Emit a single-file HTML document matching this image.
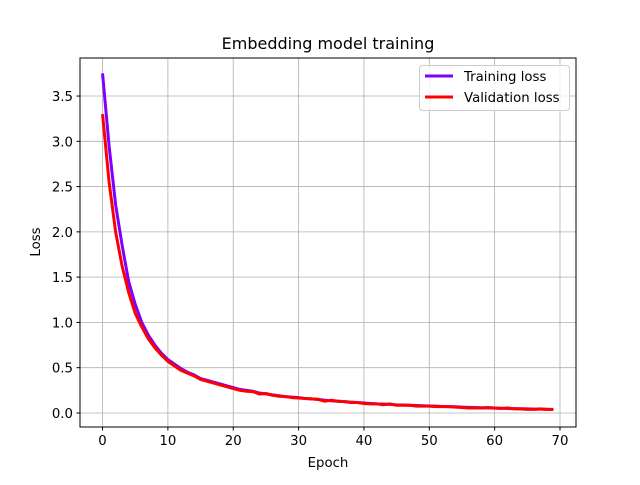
<!DOCTYPE html>
<html><head><meta charset="utf-8"><style>
body{margin:0;background:#fff}
svg text{font-family:"DejaVu Sans","Liberation Sans",sans-serif;fill:#000}
</style></head><body>
<svg id="chart" width="640" height="480">
<rect width="640" height="480" fill="#fff"/>
<g id="grid"></g>
<g id="ticks"></g>
<g id="series"></g>
<rect x="80" y="58" width="496" height="369" fill="none" stroke="#000" stroke-width="1"/>
<text x="328" y="49" font-size="16" text-anchor="middle">Embedding model training</text>
<text x="328" y="467" font-size="13.3" text-anchor="middle">Epoch</text>
<text x="0" y="0" font-size="13.3" text-anchor="middle" transform="translate(40,242) rotate(-90)">Loss</text>
<g>
<rect x="419.5" y="65.5" width="150" height="45" rx="3" fill="#fff" fill-opacity="0.8" stroke="#ccc"/>
<g>
<line x1="425" y1="76" x2="453" y2="76" stroke="#7f00ff" stroke-width="3"/>
<text x="464" y="81" font-size="13.3">Training loss</text></g>
<g>
<line x1="425" y1="97" x2="453" y2="97" stroke="#ff0000" stroke-width="3"/>
<text x="464" y="102" font-size="13.3">Validation loss</text></g>
</g>
</svg>
<script>
const xTicks=[0,10,20,30,40,50,60,70];
const yTicks=[0.0,0.5,1.0,1.5,2.0,2.5,3.0,3.5];
const trainLoss=[3.75,2.95,2.3,1.85,1.45,1.2,1.0,0.86,0.75,0.66,0.59,0.54,0.49,0.45,0.42,0.38,0.36,0.34,0.32,0.30,0.28,0.26,0.25,0.24,0.22,0.21,0.20,0.19,0.18,0.175,0.17,0.16,0.155,0.15,0.14,0.135,0.13,0.125,0.12,0.115,0.11,0.105,0.10,0.098,0.095,0.09,0.088,0.085,0.082,0.08,0.077,0.075,0.072,0.07,0.068,0.065,0.062,0.06,0.058,0.056,0.054,0.052,0.05,0.048,0.046,0.045,0.043,0.042,0.04,0.038];
const valLoss=[3.3,2.55,2.0,1.62,1.33,1.1,0.95,0.82,0.72,0.64,0.57,0.52,0.47,0.44,0.41,0.37,0.35,0.33,0.31,0.29,0.27,0.25,0.24,0.235,0.21,0.215,0.195,0.185,0.18,0.17,0.165,0.16,0.155,0.15,0.13,0.14,0.13,0.125,0.115,0.115,0.105,0.1,0.1,0.09,0.1,0.085,0.085,0.085,0.075,0.075,0.075,0.07,0.07,0.07,0.065,0.06,0.055,0.055,0.055,0.06,0.055,0.05,0.055,0.045,0.045,0.04,0.04,0.045,0.04,0.04];
const X0=80,X1=576,Y0=58,Y1=427,xmin=-3.45,xmax=72.45,ymin=-0.155,ymax=3.92;
const sx=v=>X0+(v-xmin)/(xmax-xmin)*(X1-X0);
const sy=v=>Y1-(v-ymin)/(ymax-ymin)*(Y1-Y0);
const NS='http://www.w3.org/2000/svg';
function mk(t,a,p){const e=document.createElementNS(NS,t);for(const k in a)e.setAttribute(k,a[k]);p.appendChild(e);return e;}
const G=document.getElementById('grid'),T=document.getElementById('ticks'),S=document.getElementById('series');
xTicks.forEach(v=>{const x=sx(v);
 const g=mk('line',{x1:x,x2:x,y1:Y0,y2:Y1,stroke:'#b0b0b0','stroke-width':0.8},G);
 
 
 mk('line',{x1:x,x2:x,y1:Y1,y2:Y1+3.5,stroke:'#000'},T);
 const t=mk('text',{x:x,y:Y1+18,'font-size':13.3,'text-anchor':'middle'},T);t.textContent=v;
 
 });
yTicks.forEach(v=>{const y=sy(v);
 const g=mk('line',{x1:X0,x2:X1,y1:y,y2:y,stroke:'#b0b0b0','stroke-width':0.8},G);
 
 
 mk('line',{x1:X0-3.5,x2:X0,y1:y,y2:y,stroke:'#000'},T);
 const t=mk('text',{x:X0-7,y:y+5,'font-size':13.3,'text-anchor':'end'},T);t.textContent=v.toFixed(1);
 
 });
function line(d,c,name){const p=mk('polyline',{points:d.map((v,i)=>sx(i)+','+sy(v)).join(' '),fill:'none',stroke:c,'stroke-width':3,'stroke-linejoin':'round'},S);
 
 }
line(trainLoss,'#7f00ff','training-loss-line');
line(valLoss,'#ff0000','validation-loss-line');
</script>
</body></html>
